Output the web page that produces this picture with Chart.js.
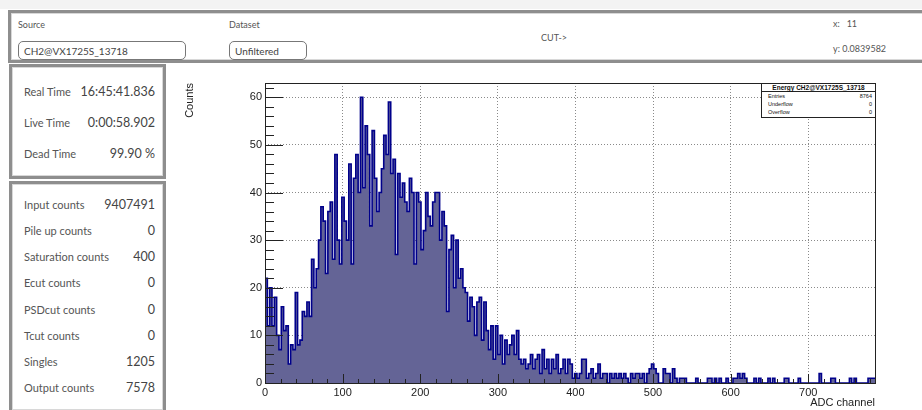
<!DOCTYPE html>
<html>
<head>
<meta charset="utf-8">
<script src="https://cdn.jsdelivr.net/npm/chart.js@4.4.0/dist/chart.umd.min.js"></script>
<style>
  body { margin: 0; width: 922px; height: 410px; overflow: hidden; position: relative; background: #fff; font-family: 'Lato', 'Open Sans', sans-serif; color: #555; }
  .topstrip { position: absolute; left: 0; top: 0; width: 922px; height: 9px; background: #f3f3f3; }
  .panel { position: absolute; border: 3px solid #8e8e8e; box-shadow: inset 0 0 0 1px #d8d8d8; background: #fff; box-sizing: border-box; }
  .lbl { position: absolute; font-size: 9px; color: #555; }
  .box { position: absolute; border: 1px solid #777; border-radius: 5px; box-sizing: border-box; font-size: 10px; color: #444; padding: 3px 5px; }
  .row { position: absolute; left: 12px; right: 8px; display: flex; justify-content: space-between; align-items: baseline; color: #555; }
  .row .k { font-size: 11px; }
  .row .v { font-size: 12.5px; color: #444; }
  #wrap { position: absolute; left: 170px; top: 64px; width: 752px; height: 346px; }
  .stats { position: absolute; left: 761px; top: 83px; width: 115px; height: 35px; border: 1px solid #222; background: #fff; box-sizing: border-box; font-family: 'Liberation Sans', sans-serif; color: #111; }
  .stats .t { font-size: 6.5px; font-weight: bold; text-align: center; border-bottom: 1px solid #222; height: 7px; line-height: 7px; }
  .stats .r { display: flex; justify-content: space-between; font-size: 5.5px; padding: 0 3px 0 6px; height: 8px; line-height: 9px; }
</style>
</head>
<body>
<div class="topstrip"></div>

<!-- top bar -->
<div class="panel" style="left:8px; top:10px; width:930px; height:53px;"></div>
<div class="lbl" style="left:18px; top:19px;">Source</div>
<div class="box" style="left:18px; top:41px; width:168px; height:19px;">CH2@VX1725S_13718</div>
<div class="lbl" style="left:229px; top:19px;">Dataset</div>
<div class="box" style="left:229px; top:41px; width:78px; height:19px;">Unfiltered</div>
<div class="lbl" style="left:541px; top:32px;">CUT-&gt;</div>
<div class="lbl" style="left:833px; top:18px;">x:&nbsp;&nbsp;&nbsp;11</div>
<div class="lbl" style="left:833px; top:43px;">y: 0.0839582</div>

<!-- timing panel -->
<div class="panel" style="left:9px; top:64px; width:157px; height:115px;">
  <div class="row" style="top:17px;"><span class="k">Real Time</span><span class="v">16:45:41.836</span></div>
  <div class="row" style="top:48px;"><span class="k">Live Time</span><span class="v">0:00:58.902</span></div>
  <div class="row" style="top:79px;"><span class="k">Dead Time</span><span class="v">99.90 %</span></div>
</div>

<!-- counters panel -->
<div class="panel" style="left:9px; top:181px; width:157px; height:232px;">
  <div class="row" style="top:13px;"><span class="k">Input counts</span><span class="v">9407491</span></div>
  <div class="row" style="top:39px;"><span class="k">Pile up counts</span><span class="v">0</span></div>
  <div class="row" style="top:65px;"><span class="k">Saturation counts</span><span class="v">400</span></div>
  <div class="row" style="top:91px;"><span class="k">Ecut counts</span><span class="v">0</span></div>
  <div class="row" style="top:118px;"><span class="k">PSDcut counts</span><span class="v">0</span></div>
  <div class="row" style="top:144px;"><span class="k">Tcut counts</span><span class="v">0</span></div>
  <div class="row" style="top:170px;"><span class="k">Singles</span><span class="v">1205</span></div>
  <div class="row" style="top:196px;"><span class="k">Output counts</span><span class="v">7578</span></div>
</div>

<div id="wrap"><canvas id="histo" width="752" height="346"></canvas></div>

<div class="stats">
  <div class="t">Energy CH2@VX1725S_13718</div>
  <div class="r"><span>Entries</span><span>8764</span></div>
  <div class="r"><span>Underflow</span><span>0</span></div>
  <div class="r"><span>Overflow</span><span>0</span></div>
</div>

<script>
// histogram: 3-channel bins starting at channel 0
const binWidth = 3;
const counts = [
  16, 22, 12, 20, 12, 18, 10, 7, 16, 11,
  12, 4, 8, 7, 19, 8, 9, 15, 14, 17,
  14, 26, 20, 24, 30, 37, 34, 23, 36, 38,
  26, 48, 30, 25, 39, 34, 30, 46, 25, 43,
  48, 40, 60, 41, 54, 48, 33, 53, 43, 36,
  40, 45, 52, 48, 59, 44, 47, 27, 44, 39,
  42, 38, 36, 43, 40, 25, 40, 38, 28, 32,
  40, 35, 33, 38, 40, 40, 30, 36, 33, 15,
  28, 31, 20, 30, 22, 24, 20, 19, 13, 18,
  16, 10, 17, 18, 9, 17, 11, 7, 12, 5,
  12, 6, 10, 4, 9, 6, 8, 10, 6, 11,
  5, 4, 5, 3, 4, 6, 3, 5, 6, 2,
  7, 3, 5, 2, 5, 3, 6, 2, 3, 5,
  2, 5, 4, 1, 2, 1, 2, 5, 5, 1,
  2, 3, 1, 2, 4, 1, 2, 2, 0, 2,
  1, 2, 1, 2, 1, 2, 1, 0, 2, 1,
  2, 2, 1, 2, 0, 2, 3, 4, 3, 2,
  0, 0, 3, 2, 2, 0, 3, 1, 0, 1,
  1, 1, 0, 0, 0, 0, 1, 0, 0, 0,
  0, 1, 1, 0, 1, 0, 1, 0, 0, 1,
  0, 0, 1, 1, 2, 1, 2, 1, 0, 0,
  0, 1, 0, 1, 0, 0, 0, 1, 0, 1,
  0, 0, 0, 0, 1, 1, 0, 0, 0, 0,
  1, 0, 0, 0, 0, 0, 0, 0, 0, 2,
  0, 0, 0, 0, 1, 1, 0, 0, 0, 0,
  0, 0, 1, 0, 1, 0, 0, 0, 0, 0,
  1, 1
];
const xRange = [0, 786];
const yRange = [0, 63];
const xMajor = 100, xMinor = 20;
const yMajor = 10, yMinor = 2;

const points = counts.map((c, i) => ({ x: i * binWidth, y: c }));
points.push({ x: counts.length * binWidth, y: counts[counts.length - 1] });

const axisFont = { family: 'Liberation Sans', size: 11 };

// ROOT-like frame with ticks on the inside
const rootFrame = {
  id: 'rootFrame',
  afterDatasetsDraw(chart) {
    const { ctx, chartArea: a, scales: { x, y } } = chart;
    ctx.save();
    ctx.strokeStyle = '#222';
    ctx.lineWidth = 1;
    ctx.beginPath();
    for (let v = yRange[0]; v <= yRange[1]; v += yMinor) {
      const py = Math.round(y.getPixelForValue(v)) + 0.5;
      const len = v % yMajor === 0 ? 18 : 9;
      ctx.moveTo(a.left, py); ctx.lineTo(a.left + len, py);
    }
    for (let v = xRange[0]; v <= xRange[1]; v += xMinor) {
      const px = Math.round(x.getPixelForValue(v)) + 0.5;
      const len = v % xMajor === 0 ? 9 : 4;
      ctx.moveTo(px, a.bottom); ctx.lineTo(px, a.bottom - len);
    }
    ctx.stroke();
    ctx.strokeRect(Math.round(a.left) + 0.5, Math.round(a.top) + 0.5, Math.round(a.right - a.left), Math.round(a.bottom - a.top));
    ctx.restore();
  }
};

new Chart(document.getElementById('histo'), {
  type: 'line',
  data: {
    datasets: [{
      data: points,
      stepped: 'after',
      fill: 'origin',
      borderColor: '#00008b',
      borderWidth: 1.6,
      backgroundColor: '#646496',
      pointRadius: 0,
      tension: 0
    }]
  },
  options: {
    responsive: false,
    animation: false,
    layout: { padding: { left: 0, top: 19, right: 47, bottom: 0 } },
    plugins: { legend: { display: false }, tooltip: { enabled: false } },
    scales: {
      x: {
        type: 'linear', min: xRange[0], max: xRange[1],
        ticks: { stepSize: xMajor, includeBounds: false, maxRotation: 0, padding: 3, font: axisFont, color: '#222' },
        grid: { color: '#8a8a8a', drawTicks: false },
        border: { display: false, dash: [1, 2] },
        title: { display: true, text: 'ADC channel', align: 'end', font: axisFont, color: '#222', padding: { top: 0, bottom: 0 } },
        afterFit(s) { s.height = 27; }
      },
      y: {
        type: 'linear', min: yRange[0], max: yRange[1],
        ticks: { stepSize: yMajor, includeBounds: false, padding: 3, font: axisFont, color: '#222' },
        grid: { color: '#8a8a8a', drawTicks: false },
        border: { display: false, dash: [1, 2] },
        title: { display: true, text: 'Counts', align: 'end', font: axisFont, color: '#222', padding: { top: 13, bottom: 0 } },
        afterFit(s) { s.width = 95; }
      }
    }
  },
  plugins: [rootFrame]
});
</script>
</body>
</html>
